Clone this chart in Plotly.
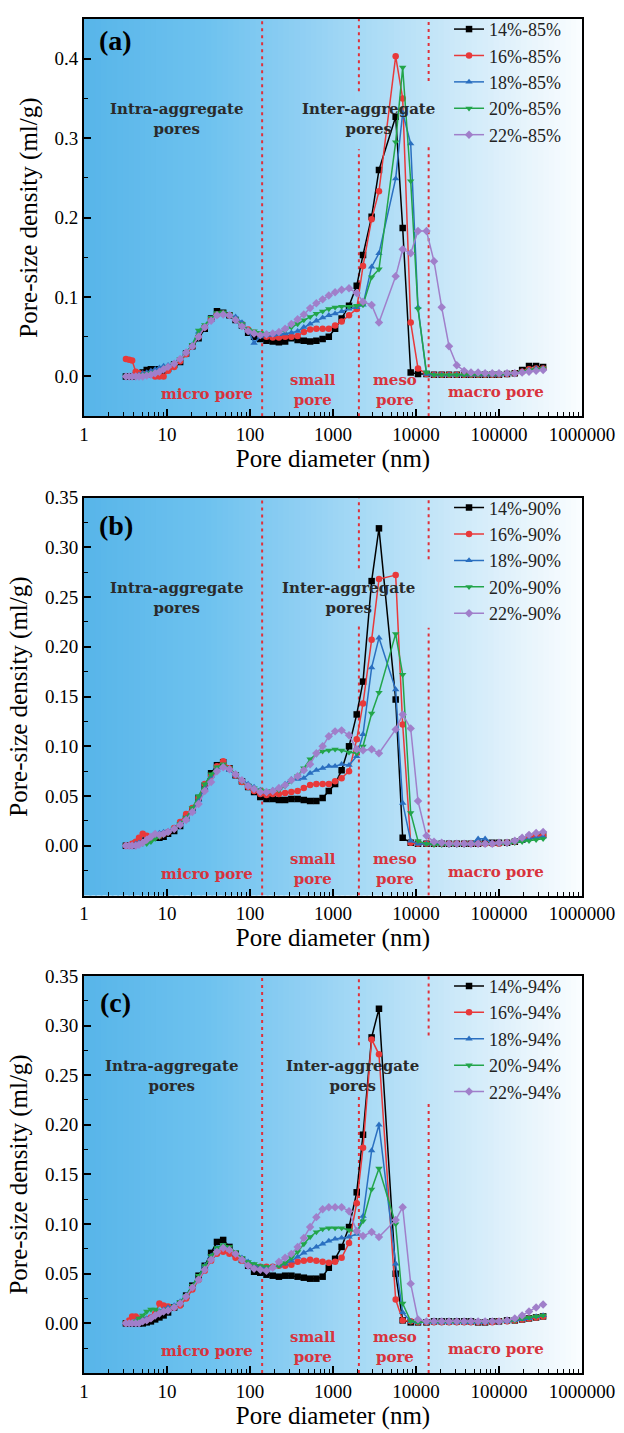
import plotly.graph_objects as go

# ---------------- data ----------------
pore_nm = [3.2, 3.5, 3.8, 4.2, 4.6, 5.1, 5.7, 6.4, 7.2, 8.1, 9.1,
           10.3, 12.2, 14.4, 17, 20.2, 24, 28.5, 34, 40, 47.5, 56.5, 67, 80, 95,
           112, 133, 158, 188, 223, 265, 315, 375, 445, 530, 630, 750, 890, 1060,
           1270, 1560, 1930, 2300, 2920, 3580,
           5690, 6910, 8630, 10570,
           13370, 16480, 20400, 25000, 31000, 38000, 46000, 56000, 68000, 83000,
           100000, 125000, 155000, 190000, 230000, 280000, 340000]

# panel (a) 85%
a_14 = [0, 0, 0, 0.001, 0.003, 0.005, 0.008, 0.009, 0.009, 0.008, 0.007,
        0.010, 0.015, 0.018, 0.029, 0.038, 0.048, 0.060, 0.073, 0.082, 0.080, 0.077, 0.071, 0.064, 0.055,
        0.050, 0.047, 0.045, 0.044, 0.043, 0.044, 0.048, 0.046, 0.045, 0.044, 0.045, 0.047, 0.050, 0.060, 0.073, 0.089, 0.114, 0.153, 0.201, 0.260,
        0.327, 0.187, 0.005, 0.003,
        0.003, 0.002, 0.002, 0.002, 0.002, 0.002, 0.002, 0.002, 0.002, 0.002, 0.002, 0.003, 0.004, 0.008, 0.013, 0.013, 0.012]
a_16 = [0.022, 0.021, 0.020, 0.006, 0.004, 0.003, 0.003, 0.002, 0.000, 0.000, 0.000,
        0.007, 0.012, 0.019, 0.028, 0.038, 0.050, 0.062, 0.072, 0.078, 0.079, 0.077, 0.072, 0.066, 0.059,
        0.055, 0.052, 0.050, 0.049, 0.049, 0.050, 0.050, 0.051, 0.056, 0.059, 0.060, 0.060, 0.060, 0.064, 0.069, 0.077, 0.085, 0.139, 0.198, 0.233,
        0.403, 0.350, 0.068, 0.010,
        0.003, 0.002, 0.002, 0.002, 0.002, 0.002, 0.002, 0.002, 0.002, 0.002, 0.002, 0.003, 0.004, 0.006, 0.009, 0.010, 0.010]
a_18 = [0, 0, 0, 0, 0.002, 0.004, 0.005, 0.007, 0.009, 0.011, 0.013,
        0.014, 0.017, 0.022, 0.030, 0.040, 0.056, 0.062, 0.072, 0.078, 0.079, 0.077, 0.075, 0.068, 0.058,
        0.042, 0.050, 0.052, 0.052, 0.053, 0.054, 0.055, 0.057, 0.062, 0.066, 0.070, 0.074, 0.077, 0.079, 0.082, 0.085, 0.087, 0.090, 0.138, 0.155,
        0.249, 0.332, 0.293, 0.087,
        0.003, 0.002, 0.002, 0.002, 0.002, 0.002, 0.002, 0.002, 0.002, 0.002, 0.002, 0.003, 0.004, 0.006, 0.008, 0.010, 0.010]
a_20 = [0, 0, 0, 0, 0.001, 0.002, 0.003, 0.004, 0.005, 0.006, 0.008,
        0.012, 0.016, 0.022, 0.030, 0.040, 0.058, 0.065, 0.074, 0.080, 0.081, 0.078, 0.072, 0.066, 0.059,
        0.057, 0.055, 0.054, 0.054, 0.055, 0.058, 0.062, 0.066, 0.071, 0.075, 0.079, 0.082, 0.085, 0.087, 0.088, 0.088, 0.089, 0.090, 0.125, 0.135,
        0.295, 0.389, 0.246, 0.085,
        0.005, 0.002, 0.002, 0.002, 0.002, 0.002, 0.002, 0.002, 0.002, 0.002, 0.002, 0.003, 0.004, 0.006, 0.008, 0.009, 0.010]
a_22 = [0, 0, 0, 0, 0, 0, 0.001, 0.002, 0.004, 0.006, 0.009,
        0.012, 0.016, 0.022, 0.030, 0.038, 0.050, 0.062, 0.070, 0.077, 0.078, 0.077, 0.071, 0.063, 0.057,
        0.054, 0.052, 0.053, 0.054, 0.056, 0.060, 0.066, 0.072, 0.078, 0.086, 0.092, 0.097, 0.102, 0.106, 0.109, 0.111, 0.105, 0.094, 0.090, 0.068,
        0.126, 0.160, 0.155, 0.183,
        0.183, 0.145, 0.087, 0.038, 0.014, 0.007, 0.005, 0.005, 0.004, 0.004, 0.004, 0.004, 0.004, 0.005, 0.006, 0.007, 0.008]

# panel (b) 90%
b_14 = [0, 0, 0, 0.002, 0.003, 0.005, 0.007, 0.008, 0.009, 0.008, 0.009,
        0.012, 0.015, 0.020, 0.028, 0.036, 0.048, 0.060, 0.073, 0.081, 0.084, 0.078, 0.071, 0.065, 0.059,
        0.054, 0.049, 0.047, 0.047, 0.046, 0.046, 0.047, 0.047, 0.046, 0.045, 0.045, 0.048, 0.055, 0.062, 0.076, 0.100, 0.132, 0.165, 0.266, 0.319,
        0.147, 0.008, 0.003, 0.002,
        0.002, 0.002, 0.002, 0.002, 0.002, 0.002, 0.002, 0.002, 0.003, 0.003, 0.003, 0.003, 0.004, 0.006, 0.008, 0.010, 0.011]
b_16 = [0, 0, 0.002, 0.004, 0.008, 0.012, 0.010, 0.008, 0.009, 0.010, 0.012,
        0.014, 0.018, 0.024, 0.032, 0.038, 0.048, 0.062, 0.070, 0.080, 0.085, 0.078, 0.071, 0.064, 0.059,
        0.055, 0.052, 0.051, 0.052, 0.052, 0.053, 0.054, 0.055, 0.058, 0.061, 0.062, 0.062, 0.062, 0.065, 0.068, 0.075, 0.107, 0.143, 0.207, 0.268,
        0.272, 0.122, 0.003, 0.002,
        0.002, 0.002, 0.002, 0.002, 0.002, 0.002, 0.002, 0.002, 0.002, 0.002, 0.002, 0.003, 0.004, 0.006, 0.008, 0.010, 0.010]
b_18 = [0, 0, 0, 0.002, 0.003, 0.004, 0.006, 0.008, 0.010, 0.013, 0.014,
        0.015, 0.018, 0.023, 0.028, 0.036, 0.046, 0.058, 0.070, 0.078, 0.080, 0.076, 0.071, 0.066, 0.062,
        0.059, 0.056, 0.054, 0.056, 0.058, 0.062, 0.067, 0.067, 0.068, 0.073, 0.076, 0.078, 0.080, 0.080, 0.082, 0.081, 0.090, 0.112, 0.179, 0.209,
        0.157, 0.043, 0.005, 0.002,
        0.002, 0.002, 0.002, 0.002, 0.002, 0.002, 0.002, 0.007, 0.007, 0.003, 0.003, 0.003, 0.004, 0.005, 0.007, 0.008, 0.009]
b_20 = [0, 0, 0, 0, 0.001, 0.002, 0.002, 0.004, 0.007, 0.009, 0.011,
        0.013, 0.017, 0.022, 0.028, 0.038, 0.050, 0.062, 0.072, 0.079, 0.082, 0.078, 0.072, 0.065, 0.060,
        0.058, 0.056, 0.055, 0.055, 0.056, 0.060, 0.065, 0.070, 0.078, 0.087, 0.092, 0.095, 0.096, 0.097, 0.096, 0.094, 0.093, 0.100, 0.133, 0.154,
        0.213, 0.172, 0.033, 0.005,
        0.002, 0.001, 0.001, 0.001, 0.001, 0.001, 0.002, 0.002, 0.002, 0.002, 0.002, 0.002, 0.003, 0.004, 0.005, 0.006, 0.007]
b_22 = [0, 0, 0, 0, 0.001, 0.003, 0.006, 0.009, 0.012, 0.011, 0.012,
        0.014, 0.017, 0.021, 0.026, 0.034, 0.042, 0.055, 0.064, 0.075, 0.079, 0.077, 0.072, 0.066, 0.060,
        0.057, 0.054, 0.054, 0.055, 0.058, 0.061, 0.066, 0.070, 0.076, 0.082, 0.093, 0.100, 0.110, 0.115, 0.116, 0.111, 0.097, 0.096, 0.097, 0.093,
        0.117, 0.132, 0.118, 0.045,
        0.010, 0.004, 0.003, 0.002, 0.002, 0.002, 0.002, 0.002, 0.002, 0.002, 0.003, 0.003, 0.005, 0.008, 0.011, 0.013, 0.014]

# panel (c) 94%
c_14 = [0, 0, 0, 0, 0, 0, 0.001, 0.002, 0.004, 0.006, 0.008,
        0.011, 0.016, 0.020, 0.028, 0.038, 0.048, 0.058, 0.071, 0.082, 0.084, 0.077, 0.070, 0.064, 0.058,
        0.052, 0.051, 0.049, 0.048, 0.047, 0.048, 0.048, 0.047, 0.046, 0.045, 0.045, 0.047, 0.056, 0.065, 0.077, 0.097, 0.132, 0.190, 0.288, 0.317,
        0.050, 0.003, 0.001, 0.001,
        0.001, 0.002, 0.002, 0.002, 0.002, 0.002, 0.002, 0.001, 0.001, 0.002, 0.002, 0.003, 0.003, 0.004, 0.005, 0.006, 0.007]
c_16 = [0, 0.003, 0.007, 0.007, 0.005, 0.003, 0.004, 0.006, 0.010, 0.020, 0.018,
        0.017, 0.016, 0.018, 0.025, 0.034, 0.044, 0.053, 0.063, 0.070, 0.072, 0.070, 0.066, 0.063, 0.060,
        0.058, 0.057, 0.057, 0.057, 0.058, 0.058, 0.059, 0.062, 0.063, 0.064, 0.063, 0.062, 0.061, 0.062, 0.066, 0.081, 0.121, 0.177, 0.286, 0.271,
        0.024, 0.003, 0.002, 0.001,
        0.001, 0.001, 0.001, 0.001, 0.001, 0.001, 0.001, 0.001, 0.001, 0.001, 0.002, 0.002, 0.003, 0.004, 0.005, 0.006, 0.007]
c_18 = [0, 0, 0.001, 0.002, 0.004, 0.005, 0.005, 0.006, 0.008, 0.012, 0.014,
        0.016, 0.018, 0.022, 0.028, 0.036, 0.046, 0.058, 0.068, 0.076, 0.078, 0.075, 0.070, 0.066, 0.062,
        0.059, 0.057, 0.056, 0.057, 0.058, 0.060, 0.063, 0.067, 0.071, 0.074, 0.077, 0.080, 0.083, 0.085, 0.086, 0.087, 0.090, 0.108, 0.174, 0.200,
        0.060, 0.011, 0.002, 0.001,
        0.001, 0.001, 0.001, 0.001, 0.001, 0.001, 0.001, 0.001, 0.001, 0.002, 0.002, 0.002, 0.003, 0.004, 0.005, 0.007, 0.008]
c_20 = [0, 0, 0, 0.002, 0.005, 0.008, 0.012, 0.014, 0.014, 0.012, 0.012,
        0.014, 0.017, 0.022, 0.028, 0.038, 0.048, 0.058, 0.068, 0.076, 0.079, 0.077, 0.072, 0.066, 0.062,
        0.060, 0.058, 0.057, 0.057, 0.058, 0.061, 0.066, 0.072, 0.080, 0.087, 0.092, 0.095, 0.096, 0.096, 0.096, 0.094, 0.092, 0.103, 0.135, 0.156,
        0.100, 0.020, 0.002, 0.001,
        0.001, 0.001, 0.001, 0.001, 0.001, 0.001, 0.001, 0.001, 0.001, 0.002, 0.002, 0.002, 0.003, 0.005, 0.006, 0.007, 0.008]
c_22 = [0, 0, 0, 0, 0, 0.002, 0.003, 0.005, 0.008, 0.010, 0.012,
        0.013, 0.016, 0.020, 0.027, 0.036, 0.044, 0.054, 0.064, 0.072, 0.076, 0.074, 0.070, 0.064, 0.058,
        0.055, 0.054, 0.053, 0.056, 0.062, 0.066, 0.070, 0.077, 0.086, 0.097, 0.107, 0.115, 0.117, 0.117, 0.117, 0.113, 0.093, 0.088, 0.092, 0.087,
        0.104, 0.117, 0.040, 0.004,
        0.002, 0.002, 0.002, 0.002, 0.002, 0.002, 0.002, 0.002, 0.002, 0.002, 0.002, 0.003, 0.005, 0.008, 0.012, 0.016, 0.019]

labels_a = ["14%-85%", "16%-85%", "18%-85%", "20%-85%", "22%-85%"]
labels_b = ["14%-90%", "16%-90%", "18%-90%", "20%-90%", "22%-90%"]
labels_c = ["14%-94%", "16%-94%", "18%-94%", "20%-94%", "22%-94%"]

# region boundaries (nm)
boundary_nm = [140, 2050, 14200]

x_ticks = [1, 10, 100, 1000, 10000, 100000, 1000000]
x_ticktext = ["1", "10", "100", "1000", "10000", "100000", "1000000"]

# ---------------- style ----------------
colors = ["#000000", "#e8393a", "#2a6fc0", "#22a54a", "#a07fca"]
symbols = ["square", "circle", "triangle-up", "triangle-down", "diamond"]
SERIF = "Liberation Serif"
BOLD_LABEL = "DejaVu Serif"
RED_TXT = "#d8333d"

panels = [
    dict(tag="(a)", series=[a_14, a_16, a_18, a_20, a_22], labels=labels_a,
         yrange=[-0.05, 0.45], yticks=[0, 0.1, 0.2, 0.3, 0.4], yfmt=".1f", yminor=0.05,
         dom=[0.7067, 1.0], gaps=[None, (0.286, 0.359), (0.291, 0.372)],
         tagy=0.945, interx=0.572, intrax=0.187),
    dict(tag="(b)", series=[b_14, b_16, b_18, b_20, b_22], labels=labels_b,
         yrange=[-0.05, 0.35], yticks=[0, 0.05, 0.10, 0.15, 0.20, 0.25, 0.30, 0.35], yfmt=".2f", yminor=0.025,
         dom=[0.3526, 0.6466], gaps=[None, (0.224, 0.279), (0.219, 0.288)],
         tagy=0.930, interx=0.532, intrax=0.187),
    dict(tag="(c)", series=[c_14, c_16, c_18, c_20, c_22], labels=labels_c,
         yrange=[-0.05, 0.35], yticks=[0, 0.05, 0.10, 0.15, 0.20, 0.25, 0.30, 0.35], yfmt=".2f", yminor=0.025,
         dom=[0.0, 0.2933], gaps=[None, (0.231, 0.280), (0.221, 0.290)],
         tagy=0.932, interx=0.540, intrax=0.177),
]

grad_stops = [(0.0, (88, 181, 233)), (0.25, (110, 194, 239)), (0.45, (146, 208, 243)),
              (0.6, (175, 221, 246)), (0.75, (205, 233, 249)), (0.9, (233, 245, 252)),
              (1.0, (250, 253, 255))]


def grad_color(f):
    for (f0, c0), (f1, c1) in zip(grad_stops[:-1], grad_stops[1:]):
        if f0 <= f <= f1:
            t = (f - f0) / (f1 - f0)
            c = [round(c0[k] + (c1[k] - c0[k]) * t) for k in range(3)]
            return "rgb(%d,%d,%d)" % tuple(c)
    return "rgb(%d,%d,%d)" % grad_stops[-1][1]


fig = go.Figure()
shapes = []
annotations = []
layout_axes = {}

for i, p in enumerate(panels):
    n = "" if i == 0 else str(i + 1)
    xa, ya = "x" + n, "y" + n
    leg = "legend" + n

    # gradient background
    NS = 90
    for k in range(NS):
        f0 = k / NS
        f1 = (k + 1) / NS
        shapes.append(dict(type="rect", xref=xa + " domain", yref=ya + " domain",
                           x0=f0, x1=min(1.0, f1 + 0.004), y0=0, y1=1,
                           fillcolor=grad_color((f0 + f1) / 2), line=dict(width=0),
                           layer="below"))

    # dotted region boundaries (with gaps behind labels)
    y0, y1 = p["yrange"]
    bx, by = [], []
    for b, g in zip(boundary_nm, p["gaps"]):
        if g is None:
            bx += [b, b, None]
            by += [y0, y1, None]
        else:
            bx += [b, b, None, b, b, None]
            by += [y0, g[0], None, g[1], y1, None]
    fig.add_trace(go.Scatter(x=bx, y=by, mode="lines", xaxis=xa, yaxis=ya,
                             line=dict(color="#e0303a", width=2, dash="3px,4px"),
                             showlegend=False, hoverinfo="skip"))

    # data series
    for s, lab, col, sym in zip(p["series"], p["labels"], colors, symbols):
        fig.add_trace(go.Scatter(
            x=pore_nm, y=s, name=lab, mode="lines+markers", xaxis=xa, yaxis=ya,
            legend=leg,
            line=dict(color=col, width=1.5),
            marker=dict(symbol=sym, size=6.5, color=col, line=dict(width=0)),
        ))

    # axes
    layout_axes["xaxis" + n] = dict(
        type="log", range=[0, 6], domain=[0, 1], anchor=ya,
        tickvals=x_ticks, ticktext=x_ticktext,
        ticks="inside", ticklen=7, tickwidth=1.5, tickcolor="black",
        minor=dict(ticks="inside", ticklen=4, tickwidth=1, tickcolor="black", dtick="D1"),
        showline=True, linecolor="black", linewidth=2, mirror=True,
        showgrid=False, zeroline=False,
        tickfont=dict(family=SERIF, size=19, color="black"),
        title=dict(text="Pore diameter (nm)", font=dict(family=SERIF, size=25, color="black"),
                   standoff=2),
    )
    layout_axes["yaxis" + n] = dict(
        range=p["yrange"], domain=p["dom"], anchor=xa,
        tickvals=p["yticks"], tickformat=p["yfmt"],
        ticks="inside", ticklen=7, tickwidth=1.5, tickcolor="black",
        minor=dict(ticks="inside", ticklen=4, tickwidth=1, tickcolor="black",
                   tick0=0, dtick=p["yminor"]),
        showline=True, linecolor="black", linewidth=2, mirror=True,
        showgrid=False, zeroline=False,
        tickfont=dict(family=SERIF, size=19, color="black"),
        title=dict(text="Pore-size density (ml/g)", font=dict(family=SERIF, size=25, color="black"),
                   standoff=10),
    )

    # legend (inside top-right of each panel)
    layout_axes[leg] = dict(
        x=0.733, y=p["dom"][1] + 0.006, xanchor="left", yanchor="top",
        bgcolor="rgba(0,0,0,0)", borderwidth=0,
        font=dict(family=SERIF, size=18, color="#222222"),
        tracegroupgap=0,
    )

    dx, dy = xa + " domain", ya + " domain"
    common = dict(xref=dx, yref=dy, showarrow=False, xanchor="center", yanchor="middle")
    annotations += [
        dict(text="<b>" + p["tag"] + "</b>", x=0.064, y=p["tagy"],
             font=dict(family=SERIF, size=28, color="black"), **common),
        dict(text="<b>Intra-aggregate<br>pores</b>", x=p["intrax"], y=0.748,
             font=dict(family=BOLD_LABEL, size=15, color="#2a2a2a"), **common),
        dict(text="<b>Inter-aggregate<br>pores</b>", x=p["interx"], y=0.748,
             font=dict(family=BOLD_LABEL, size=15, color="#2a2a2a"), **common),
        dict(text="<b>micro pore</b>", x=0.247, y=0.055,
             font=dict(family=BOLD_LABEL, size=15, color=RED_TXT), **common),
        dict(text="<b>small<br>pore</b>", x=0.460, y=0.066,
             font=dict(family=BOLD_LABEL, size=15, color=RED_TXT), **common),
        dict(text="<b>meso<br>pore</b>", x=0.624, y=0.066,
             font=dict(family=BOLD_LABEL, size=15, color=RED_TXT), **common),
        dict(text="<b>macro pore</b>", x=0.827, y=0.060,
             font=dict(family=BOLD_LABEL, size=15, color=RED_TXT), **common),
    ]

fig.update_layout(
    width=624, height=1433,
    margin=dict(l=84, r=42, t=9, b=60),
    paper_bgcolor="white", plot_bgcolor="white",
    shapes=shapes, annotations=annotations,
    font=dict(family=SERIF, color="black"),
    **layout_axes,
)

fig.write_html("out.html")
